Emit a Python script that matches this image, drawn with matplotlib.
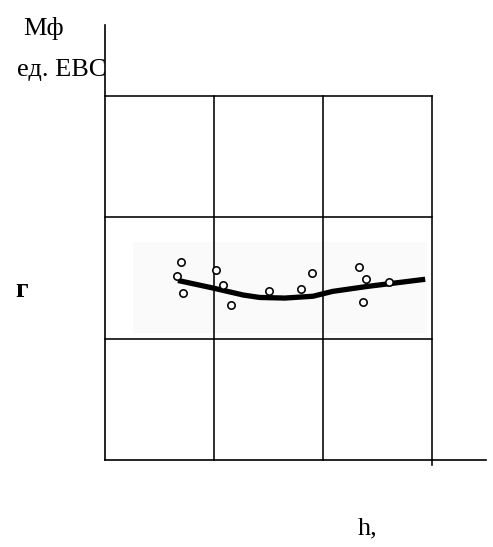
import matplotlib
matplotlib.use("Agg")
import matplotlib.pyplot as plt
from matplotlib.patches import Rectangle

# scatter data (h, Мф)
pts_x = [0.70, 0.66, 0.72, 1.02, 1.08, 1.16, 1.51, 1.80, 1.90, 2.33, 2.40, 2.37, 2.61]
pts_y = [1.63, 1.52, 1.38, 1.57, 1.44, 1.28, 1.39, 1.41, 1.54, 1.59, 1.49, 1.30, 1.47]
# fitted curve
curve_x = [0.67, 0.98, 1.27, 1.42, 1.65, 1.91, 2.09, 2.40, 2.94]
curve_y = [1.48, 1.42, 1.36, 1.34, 1.335, 1.35, 1.39, 1.43, 1.49]
grid_vals = [1, 2, 3]

W, H = 493, 547
fig = plt.figure(figsize=(W / 100, H / 100), dpi=100)
x0, x1 = 105, 486
ytop, ybot = 25, 460
ax = fig.add_axes([x0 / W, 1 - ybot / H, (x1 - x0) / W, (ybot - ytop) / H])
xmax = (x1 - x0) / 108.9
ymax = (ybot - ytop) / 121.3
ax.set_xlim(0, xmax)
ax.set_ylim(0, ymax)
for s in ["top", "right"]:
    ax.spines[s].set_visible(False)
for s in ["left", "bottom"]:
    ax.spines[s].set_linewidth(1.2)
ax.set_xticks([])
ax.set_yticks([])

ax.add_patch(Rectangle((0.26, 1.05), 2.70, 0.75, facecolor="#fafafa", edgecolor="none", zorder=0))
for g in grid_vals:
    ax.plot([0, 3], [g, g], color="black", lw=1.15, zorder=1, clip_on=False)
    ax.plot([g, g], [0, 3], color="black", lw=1.15, zorder=1, clip_on=False)
ax.plot([3, 3], [-0.04, 0], color="black", lw=1.15, clip_on=False)

ax.plot(curve_x, curve_y, color="black", lw=3.8, solid_capstyle="butt", zorder=2)
ax.plot(pts_x, pts_y, "o", ms=5.3, mfc="white", mec="black", mew=1.15, zorder=3)

serif = ["Liberation Serif", "DejaVu Serif"]
def t(x, y, s, **kw):
    fig.text(x / W, 1 - y / H, s, family=serif, va="baseline", **kw)

t(23, 35, "Мф", fontsize=19)
t(17, 76, "ед. ЕВС", fontsize=19)
t(15, 297, "г", fontsize=20, fontweight="bold")
t(358, 534, "h,", fontsize=19)

fig.savefig("out.png", dpi=100)
